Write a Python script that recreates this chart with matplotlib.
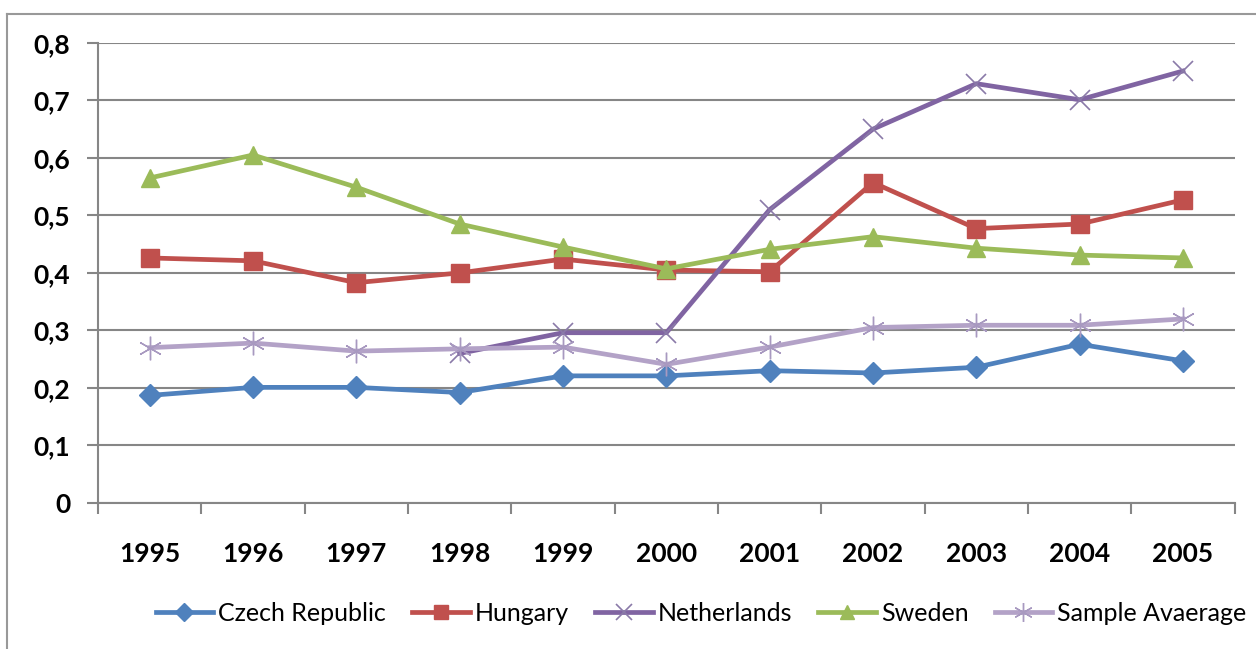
import matplotlib.pyplot as plt
from matplotlib.lines import Line2D
from matplotlib.ticker import FuncFormatter, FixedLocator

plt.rcParams['font.family'] = ['Lato', 'DejaVu Sans']

years = [1995, 1996, 1997, 1998, 1999, 2000, 2001, 2002, 2003, 2004, 2005]
czech = [0.187, 0.201, 0.201, 0.192, 0.221, 0.221, 0.230, 0.226, 0.236, 0.276, 0.247]
hungary = [0.426, 0.421, 0.383, 0.400, 0.424, 0.405, 0.402, 0.557, 0.477, 0.485, 0.527]
neth_years = [1998, 1999, 2000, 2001, 2002, 2003, 2004, 2005]
netherlands = [0.260, 0.296, 0.296, 0.510, 0.650, 0.729, 0.701, 0.751]
sweden = [0.565, 0.605, 0.549, 0.485, 0.445, 0.407, 0.441, 0.463, 0.443, 0.431, 0.426]
sample = [0.270, 0.278, 0.264, 0.268, 0.271, 0.241, 0.271, 0.305, 0.309, 0.309, 0.320]

fig = plt.figure(figsize=(12.56, 6.49), dpi=100)
ax = fig.add_axes([0.078, 0.225, 0.905, 0.709])

x = list(range(len(years)))
xn = [years.index(y) for y in neth_years]

lw = 3.4
ax.plot(x, czech, color='#4F81BD', lw=lw, marker='D', ms=11, label='Czech Republic', zorder=3)
ax.plot(x, hungary, color='#C0504D', lw=lw, marker='s', ms=13, label='Hungary', zorder=3)
ax.plot(xn, netherlands, color='#8064A2', lw=lw, marker='x', ms=15, mew=1.2,
        mec='#8A7AA8', label='Netherlands', zorder=3)
ax.plot(x, sweden, color='#9BBB59', lw=lw, marker='^', ms=13, label='Sweden', zorder=3)
ax.plot(x, sample, color='#B3A2C7', lw=lw, marker=(6, 2, 0), ms=17, mew=1.0,
        mec='#A899C0', label='Sample Avaerage', zorder=3)

ax.set_xlim(-0.5, len(years) - 0.5)
ax.set_ylim(0, 0.8)
ax.set_yticks([0, 0.1, 0.2, 0.3, 0.4, 0.5, 0.6, 0.7, 0.8])
ax.yaxis.set_major_formatter(FuncFormatter(lambda v, p: '0' if v == 0 else ('%.1f' % v).replace('.', ',')))
ax.grid(axis='y', color='#868686', lw=1.5)
ax.set_axisbelow(True)

ax.set_xticks(x)
ax.set_xticklabels([str(y) for y in years])
ax.xaxis.set_minor_locator(FixedLocator([i - 0.5 for i in range(len(years) + 1)]))
ax.tick_params(axis='x', which='major', length=0, pad=28, labelsize=19)
ax.tick_params(axis='x', which='minor', length=8, width=1.5, color='#868686')
ax.tick_params(axis='y', length=8, width=1.5, color='#868686', labelsize=19, pad=12)
for lab in ax.get_xticklabels() + ax.get_yticklabels():
    lab.set_fontweight('bold')

for s in ['top', 'right']:
    ax.spines[s].set_visible(False)
for s in ['left', 'bottom']:
    ax.spines[s].set_color('#868686')
    ax.spines[s].set_linewidth(1.5)

leg = fig.legend(loc='center left', bbox_to_anchor=(0.124, 0.055), ncol=5, frameon=False,
                 borderpad=0, borderaxespad=0,
                 handlelength=2.3, columnspacing=1.05, handletextpad=0.2, markerscale=0.8,
                 prop={'size': 18})

# outer chart frame
fig.add_artist(Line2D([7 / 1256, 7 / 1256], [0, 1 - 14 / 649], color='#999999', lw=1.5))
fig.add_artist(Line2D([7 / 1256, 1], [1 - 14 / 649, 1 - 14 / 649], color='#999999', lw=1.5))

fig.savefig('out.png', dpi=100)
